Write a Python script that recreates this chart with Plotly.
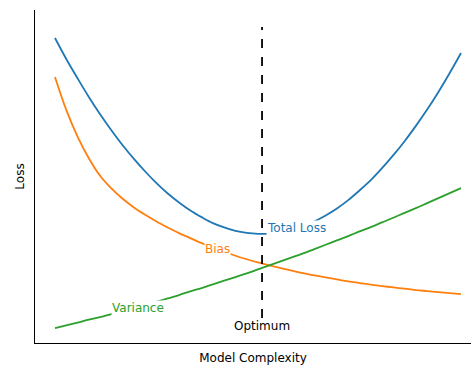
import plotly.graph_objects as go

# Model complexity (x) and loss values
complexity = [1.0, 1.25, 1.5, 1.75, 2.0, 2.25, 2.5, 2.75, 3.0, 3.25, 3.5, 3.75,
              4.0, 4.25, 4.5, 4.75, 5.0, 5.25, 5.5, 5.75, 6.0, 6.25, 6.5, 6.75,
              7.0, 7.25, 7.5, 7.75, 8.0, 8.25, 8.5, 8.75, 9.0, 9.25, 9.5, 9.75, 10.0]
total_loss = [9.16, 8.53, 7.95, 7.39, 6.87, 6.39, 5.94, 5.53, 5.15, 4.80, 4.49, 4.22,
              3.98, 3.78, 3.60, 3.47, 3.37, 3.31, 3.28, 3.28, 3.32, 3.40, 3.50, 3.65,
              3.83, 4.04, 4.29, 4.58, 4.89, 5.25, 5.64, 6.06, 6.52, 7.01, 7.54, 8.11, 8.71]
bias = [7.99, 7.00, 6.20, 5.55, 5.02, 4.64, 4.33, 4.07, 3.85, 3.65, 3.47, 3.30,
        3.15, 3.00, 2.87, 2.74, 2.62, 2.515, 2.42, 2.33, 2.25, 2.17, 2.10, 2.03,
        1.97, 1.91, 1.85, 1.80, 1.75, 1.71, 1.67, 1.63, 1.59, 1.56, 1.53, 1.50, 1.47]
variance = [0.45, 0.53, 0.61, 0.70, 0.78, 0.87, 0.96, 1.05, 1.15, 1.24, 1.34, 1.44,
            1.55, 1.65, 1.76, 1.87, 1.98, 2.09, 2.21, 2.33, 2.45, 2.57, 2.69, 2.82,
            2.95, 3.08, 3.21, 3.35, 3.48, 3.62, 3.76, 3.91, 4.05, 4.20, 4.35, 4.50, 4.65]

optimum_x = 5.59
optimum_line_y = [0.75, 9.49]
optimum_label_y = 0.51

# Inline label anchors (x, y on curve)
label_total = (6.36, 3.46)
label_bias = (4.61, 2.82)
label_variance = (2.84, 1.05)

blue, orange, green = "#1f77b4", "#ff7f0e", "#2ca02c"
font = "DejaVu Sans, Verdana, sans-serif"

fig = go.Figure()
for y, c, n in [(total_loss, blue, "Total Loss"), (bias, orange, "Bias"),
                (variance, green, "Variance")]:
    fig.add_trace(go.Scatter(x=complexity, y=y, mode="lines", name=n,
                             line=dict(color=c, width=1.8, shape="spline", smoothing=1.0),
                             showlegend=False, hoverinfo="skip"))

fig.add_trace(go.Scatter(x=[optimum_x, optimum_x], y=optimum_line_y, mode="lines",
                         line=dict(color="black", width=1.8, dash="dash"),
                         showlegend=False, hoverinfo="skip"))

for (lx, ly), txt, c in [(label_total, "Total Loss", blue),
                         (label_bias, "Bias", orange),
                         (label_variance, "Variance", green)]:
    fig.add_annotation(x=lx, y=ly, text=txt, showarrow=False,
                       font=dict(color=c, size=12, family=font),
                       bgcolor="white", borderpad=0, xanchor="center", yanchor="middle")

fig.add_annotation(x=optimum_x, y=optimum_label_y, text="Optimum", showarrow=False,
                   font=dict(color="black", size=12, family=font),
                   bgcolor="white", borderpad=0, xanchor="center", yanchor="middle")

fig.update_layout(
    width=471, height=365,
    margin=dict(l=35, r=0, t=10, b=22),
    plot_bgcolor="white", paper_bgcolor="white",
    font=dict(family=font, size=12, color="black"),
    xaxis=dict(range=[0.557, 10.222], showgrid=False, zeroline=False,
               showticklabels=False, ticks="", showline=True, linecolor="black",
               linewidth=1, title=dict(text="Model Complexity", standoff=10,
                                       font=dict(size=12)), automargin=False),
    yaxis=dict(range=[0, 10], showgrid=False, zeroline=False,
               showticklabels=False, ticks="", showline=True, linecolor="black",
               linewidth=1, title=dict(text="Loss", standoff=6, font=dict(size=12)),
               automargin=False),
)

fig.write_html("out.html", config={"displayModeBar": False},
               post_script="document.body.style.margin='0';")
